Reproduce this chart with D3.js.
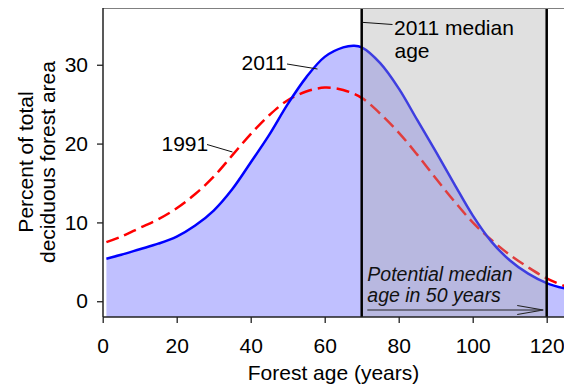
<!DOCTYPE html>
<html>
<head>
<meta charset="utf-8">
<script src="https://cdn.jsdelivr.net/npm/d3@7"></script>
<style>
  html, body { margin: 0; padding: 0; background: #fff; }
  svg { display: block; font-family: "Liberation Sans", Arial, sans-serif; }
</style>
</head>
<body>
<svg id="chart" width="564" height="387"></svg>
<script>
// Forest age distribution (percent of total deciduous forest area)
const ages2011 = [1, 5, 10, 15, 20, 25, 30, 35, 40, 45, 50, 55, 60, 65, 68, 70, 75, 80, 85, 90, 95, 100, 105, 110, 115, 120, 125];
const values2011 = [5.4, 5.9, 6.6, 7.3, 8.2, 9.6, 11.5, 14.2, 17.6, 21.1, 25.0, 28.4, 31.0, 32.2, 32.4, 32.2, 30.2, 27.0, 23.0, 19.0, 14.9, 10.9, 7.6, 5.2, 3.5, 2.3, 1.6];

const ages1991 = [1, 5, 10, 15, 20, 25, 30, 35, 40, 45, 50, 55, 60, 65, 70, 75, 80, 85, 90, 95, 100, 105, 110, 115, 120, 125];
const values1991 = [7.5, 8.2, 9.3, 10.4, 11.8, 13.6, 15.8, 18.5, 21.2, 23.6, 25.5, 26.6, 27.1, 26.8, 25.8, 23.8, 21.4, 18.6, 15.6, 12.7, 10.0, 7.8, 5.9, 4.3, 2.9, 1.9];

const xTicks = [0, 20, 40, 60, 80, 100, 120];
const yTicks = [0, 10, 20, 30];

const medianAge2011 = 70;
const medianAgeFuture = 120;

const svg = d3.select("#chart");
const plotLeft = 103, plotRight = 564, plotTop = 8, plotBottom = 317;
const ink = "#000";

const x = d3.scaleLinear().domain([0, 125]).range([102.7, 565.2]);
const y = d3.scaleLinear().domain([-2, 37.2]).range([plotBottom, plotTop]);

svg.append("defs").append("clipPath").attr("id", "plotClip")
  .append("rect").attr("x", plotLeft).attr("y", plotTop)
  .attr("width", plotRight - plotLeft).attr("height", plotBottom - plotTop);

const plot = svg.append("g").attr("clip-path", "url(#plotClip)");

const d2011 = ages2011.map((a, i) => [a, values2011[i]]);
const d1991 = ages1991.map((a, i) => [a, values1991[i]]);

// filled area under the 2011 distribution
plot.append("path")
  .datum(d2011)
  .attr("fill", "rgb(192,192,255)")
  .attr("d", d3.area().x(d => x(d[0])).y0(plotBottom).y1(d => y(d[1])).curve(d3.curveCatmullRom));

// 1991 distribution (dashed)
plot.append("path")
  .datum(d1991)
  .attr("fill", "none")
  .attr("stroke", "#ff0000")
  .attr("stroke-width", 2.5)
  .attr("stroke-dasharray", "13,6")
  .attr("d", d3.line().x(d => x(d[0])).y(d => y(d[1])).curve(d3.curveCatmullRom));

// 2011 distribution
plot.append("path")
  .datum(d2011)
  .attr("fill", "none")
  .attr("stroke", "#0000ff")
  .attr("stroke-width", 2.5)
  .attr("d", d3.line().x(d => x(d[0])).y(d => y(d[1])).curve(d3.curveCatmullRom));

// translucent band between the current and future median age
plot.append("rect")
  .attr("x", x(medianAge2011)).attr("y", plotTop)
  .attr("width", x(medianAgeFuture) - x(medianAge2011))
  .attr("height", plotBottom - plotTop)
  .attr("fill", "rgb(170,170,170)")
  .attr("fill-opacity", 0.365);

[medianAge2011, medianAgeFuture].forEach(a => {
  plot.append("line")
    .attr("x1", x(a)).attr("x2", x(a)).attr("y1", plotTop).attr("y2", plotBottom)
    .attr("stroke", "#000").attr("stroke-width", 2.5);
});

// frame
svg.append("line").attr("x1", plotLeft).attr("x2", plotRight).attr("y1", plotTop + 0.5).attr("y2", plotTop + 0.5)
  .attr("stroke", "#808080").attr("stroke-width", 1.2);

// axes
const yAxis = svg.append("g").attr("transform", `translate(${plotLeft},0)`)
  .call(d3.axisLeft(y).tickValues(yTicks).tickSize(6).tickPadding(9).tickSizeOuter(0));
const xAxis = svg.append("g").attr("transform", `translate(0,${plotBottom})`)
  .call(d3.axisBottom(x).tickValues(xTicks).tickSize(6).tickPadding(15).tickSizeOuter(0));

[xAxis, yAxis].forEach(g => {
  g.selectAll(".domain").remove();
  g.selectAll(".tick line").attr("stroke", "#222").attr("stroke-width", 1.3);
  g.selectAll(".tick text").attr("font-size", 21).attr("fill", ink)
    .attr("font-family", "'Liberation Sans', Arial, sans-serif");
});
svg.append("line").attr("x1", plotLeft).attr("x2", plotLeft).attr("y1", plotTop).attr("y2", plotBottom)
  .attr("stroke", "#222").attr("stroke-width", 1.5);
svg.append("line").attr("x1", plotLeft).attr("x2", plotRight).attr("y1", plotBottom).attr("y2", plotBottom)
  .attr("stroke", "#222").attr("stroke-width", 1.5);

// axis titles
svg.append("text").attr("x", (plotLeft + plotRight) / 2).attr("y", 380)
  .attr("text-anchor", "middle").attr("font-size", 21).attr("fill", ink)
  .text("Forest age (years)");

const yTitle = svg.append("g").attr("transform", "translate(0,162) rotate(-90)");
yTitle.append("text").attr("x", 0).attr("y", 33).attr("text-anchor", "middle")
  .attr("font-size", 21).attr("fill", ink).text("Percent of total");
yTitle.append("text").attr("x", 0).attr("y", 55).attr("text-anchor", "middle")
  .attr("font-size", 21).attr("fill", ink).text("deciduous forest area");

// series labels with leader lines
function label(txt, tx, ty, lx1, ly1, lx2, ly2) {
  svg.append("text").attr("x", tx).attr("y", ty).attr("font-size", 21).attr("fill", ink).text(txt);
  svg.append("line").attr("x1", lx1).attr("y1", ly1).attr("x2", lx2).attr("y2", ly2)
    .attr("stroke", "#111").attr("stroke-width", 1);
}
label("2011", 241.5, 69.5, 287, 64, 317.5, 69);
label("1991", 161.5, 151, 207, 144.5, 232.5, 152);

svg.append("text").attr("x", 394).attr("y", 34.5).attr("font-size", 21).attr("fill", ink).text("2011 median");
svg.append("text").attr("x", 394.5).attr("y", 57.5).attr("font-size", 21).attr("fill", ink).text("age");
svg.append("line").attr("x1", x(medianAge2011)).attr("y1", 22.3).attr("x2", 392.5).attr("y2", 24.5)
  .attr("stroke", "#111").attr("stroke-width", 1);

// future median annotation
svg.append("text").attr("x", 367.3).attr("y", 281).attr("font-size", 19.5)
  .attr("font-style", "italic").attr("fill", "#111").text("Potential median");
svg.append("text").attr("x", 367.3).attr("y", 302).attr("font-size", 19.5)
  .attr("font-style", "italic").attr("fill", "#111").text("age in 50 years");

const ax1 = 367.3, ax2 = x(medianAgeFuture) - 3.5, ay = 310;
svg.append("line").attr("x1", ax1).attr("y1", ay).attr("x2", ax2).attr("y2", ay)
  .attr("stroke", "#222").attr("stroke-width", 1.1);
svg.append("path")
  .attr("d", `M${ax2 - 26},${ay - 4.5} L${ax2},${ay} L${ax2 - 26},${ay + 4.5}`)
  .attr("fill", "none").attr("stroke", "#222").attr("stroke-width", 1.1);
</script>
</body>
</html>
